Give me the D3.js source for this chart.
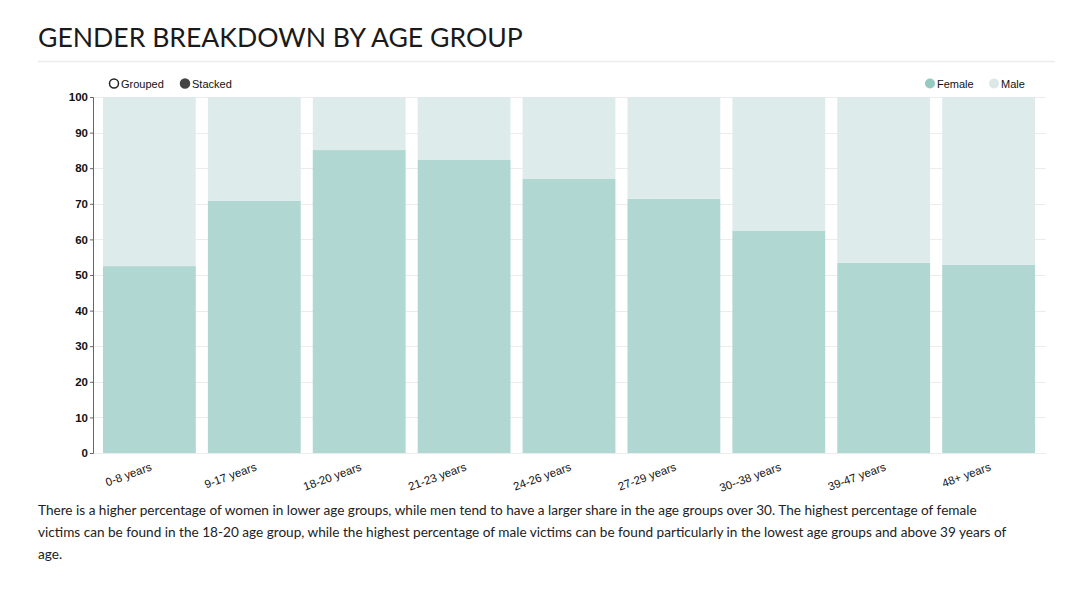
<!DOCTYPE html>
<html><head><meta charset="utf-8">
<script src="https://cdn.jsdelivr.net/npm/d3@7/dist/d3.min.js"></script>
<style>
body{margin:0;background:#fff;width:1080px;height:589px;overflow:hidden;}
svg{display:block;}
</style></head>
<body>
<svg id="c" width="1080" height="589"></svg>
<script>
const categories = ["0-8 years","9-17 years","18-20 years","21-23 years","24-26 years","27-29 years","30--38 years","39-47 years","48+ years"];
const female = [52.5, 70.9, 85.1, 82.3, 77.1, 71.4, 62.5, 53.4, 52.9];
const male = female.map(v => +(100 - v).toFixed(1));
const yTicks = [0,10,20,30,40,50,60,70,80,90,100];
const seriesNames = ["Female","Male"];
const modeNames = ["Grouped","Stacked"];
const title = "GENDER BREAKDOWN BY AGE GROUP";
const caption = [
 "There is a higher percentage of women in lower age groups, while men tend to have a larger share in the age groups over 30. The highest percentage of female",
 "victims can be found in the 18-20 age group, while the highest percentage of male victims can be found particularly in the lowest age groups and above 39 years of",
 "age."
];

const colors = {Female:"#b0d7d2", Male:"#deebeb"};
const svg = d3.select("#c");

svg.append("text").attr("x",38).attr("y",47).text(title)
  .attr("font-family","Lato").attr("font-size",26.6).attr("fill","#1a1a1a");
svg.append("line").attr("x1",38).attr("x2",1055).attr("y1",61.5).attr("y2",61.5)
  .attr("stroke","#ececec").attr("stroke-width",1.5);

const x = d3.scaleBand().domain(categories).range([93,1045]).paddingInner(0.115).paddingOuter(0.095);
const y = d3.scaleLinear().domain([0,100]).range([453,97]);

// gridlines
svg.append("g").selectAll("line").data(yTicks).join("line")
  .attr("x1",93).attr("x2",1046).attr("y1",d=>Math.round(y(d))+0.5).attr("y2",d=>Math.round(y(d))+0.5)
  .attr("stroke","#ececec").attr("stroke-width",1);

const stackData = categories.map((c,i)=>({cat:c, Female:female[i], Male:male[i]}));
const stack = d3.stack().keys(seriesNames)(stackData);
svg.append("g").selectAll("g").data(stack).join("g")
  .attr("fill",d=>colors[d.key])
  .selectAll("rect").data(d=>d).join("rect")
  .attr("x",d=>x(d.data.cat)).attr("width",x.bandwidth())
  .attr("y",d=>y(d[1])).attr("height",d=>y(d[0])-y(d[1]));

// y axis
const yAxis = d3.axisLeft(y).tickValues(yTicks).tickSize(3).tickPadding(2);
const ga = svg.append("g").attr("transform","translate(93,0)").call(yAxis);
ga.select(".domain").attr("stroke","#666");
ga.selectAll(".tick line").attr("stroke","#666");
ga.selectAll("text").attr("font-family","Liberation Sans, Arial").attr("font-size",11.5)
  .attr("font-weight","bold").attr("fill","#111");

// x axis labels
const xAxis = d3.axisBottom(x).tickSize(0).tickPadding(0);
const gx = svg.append("g").attr("transform","translate(0,453)").call(xAxis);
gx.select(".domain").remove();
gx.selectAll(".tick text")
  .attr("font-family","Liberation Sans, Arial").attr("font-size",11.5).attr("fill","#111")
  .attr("text-anchor","end").attr("dy",0)
  .attr("transform","translate(3,17) rotate(-20)");

// legend grouped/stacked
const lg = svg.append("g").attr("font-family","Liberation Sans, Arial").attr("font-size",11).attr("fill","#111");
[[114,false],[185,true]].forEach((p,i)=>{
  lg.append("circle").attr("cx",p[0]).attr("cy",83.5).attr("r",4.5)
    .attr("fill",p[1]?"#444":"#fff").attr("stroke",p[1]?"#444":"#222").attr("stroke-width",1.5);
  lg.append("text").attr("x",p[0]+7).attr("y",87.5).text(modeNames[i]);
});
[[930,"Female"],[994,"Male"]].forEach(p=>{
  lg.append("circle").attr("cx",p[0]).attr("cy",83.5).attr("r",5)
    .attr("fill",p[1]==="Female"?"#95c9c2":"#dce7e6");
  lg.append("text").attr("x",p[0]+7).attr("y",87.5).text(p[1]);
});

// caption
svg.append("g").selectAll("text").data(caption).join("text")
  .attr("x",38).attr("y",(d,i)=>515+i*22).text(d=>d)
  .attr("font-family","Lato").attr("font-size",13.6).attr("fill","#222");
</script>
</body></html>
